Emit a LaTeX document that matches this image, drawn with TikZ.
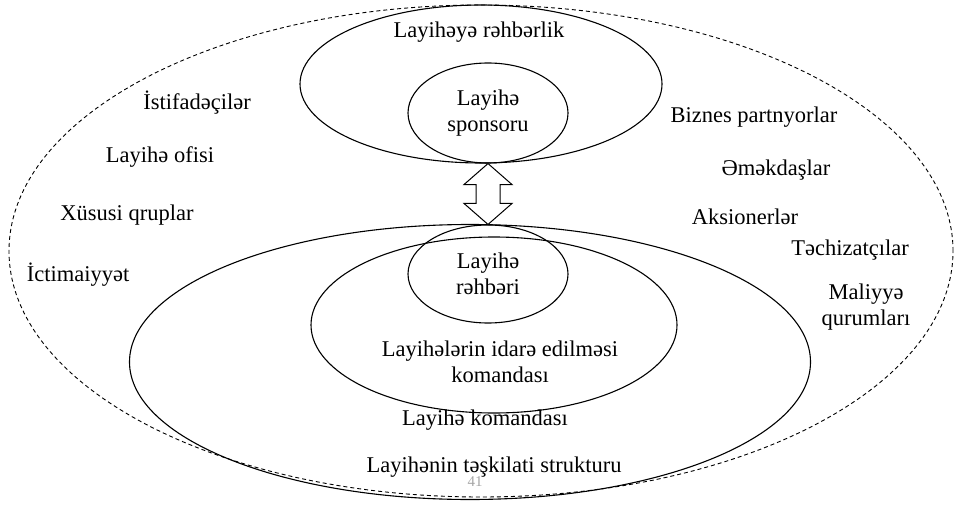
\documentclass[tikz,border=0pt]{standalone}
\usepackage{fontspec}
\setmainfont{Liberation Serif}
\usetikzlibrary{shapes.geometric,calc}

\tikzset{
  ring/.style={ellipse, draw, line width=1.1pt, inner sep=0pt},
  word/.style={inner sep=0pt, align=center}
}

\begin{document}
\begin{tikzpicture}[x=1pt, y=-1pt, font=\fontsize{22.5}{26}\selectfont]
   \useasboundingbox (0,0) rectangle (957,505);
   % environment
   \node[ring, line width=0.9pt, dash pattern=on 4pt off 3pt,
         minimum width=944pt, minimum height=492pt] (env) at (481,251) {};
   % upper group
   \node[ring, minimum width=362pt, minimum height=158pt] (lead) at (481,84) {};
   \node[ring, word, minimum width=160pt, minimum height=100pt] (spons) at (488,113) {Layihə\\sponsoru};
   \node[word] (leadtxt) at (479,32) {Layihəyə rəhbərlik};
   % lower group
   \node[ring, minimum width=681pt, minimum height=275pt] (org) at (470,362) {};
   \node[ring, minimum width=366pt, minimum height=176pt] (pmt) at (494,325) {};
   \node[ring, word, minimum width=160pt, minimum height=98pt] (mgr) at (488,274) {Layihə\\rəhbəri};
   \node[word] (pmttxt) at (500,362) {Layihələrin idarə edilməsi\\komandası};
   \node[word] (teamtxt) at (485,420) {Layihə komandası};
   \node[word] (orgtxt) at (494,467) {Layihənin təşkilati strukturu};
   \node[word, font=\fontsize{15}{18}\selectfont, text=gray!70] (pg) at (475,482) {41};
   % link between the two groups
   \draw[line width=1pt, line join=miter, fill=white]
     (spons.south) -- ($(spons.south)+(24,21)$) -- ($(spons.south)+(12,21)$)
     -- ($(mgr.north)+(12,-21)$) -- ($(mgr.north)+(24,-21)$) -- (mgr.north)
     -- ($(mgr.north)+(-24,-21)$) -- ($(mgr.north)+(-12,-21)$)
     -- ($(spons.south)+(-12,21)$) -- ($(spons.south)+(-24,21)$) -- cycle;
   % stakeholders
   \foreach \x/\y/\l/\n in
     { 197/103/{İstifadəçilər}/users,
       160/157/{Layihə ofisi}/office,
       127/215/{Xüsusi qruplar}/groups,
        78/275/{İctimaiyyət}/public,
       754/117/{Biznes partnyorlar}/partners,
       776/170/{Əməkdaşlar}/staff,
       745/217/{Aksionerlər}/holders,
       850/250/{Təchizatçılar}/suppliers,
       866/307/{Maliyyə\\qurumları}/finance
     }
     \node[word] (\n) at (\x,\y) {\l};
\end{tikzpicture}
\end{document}
